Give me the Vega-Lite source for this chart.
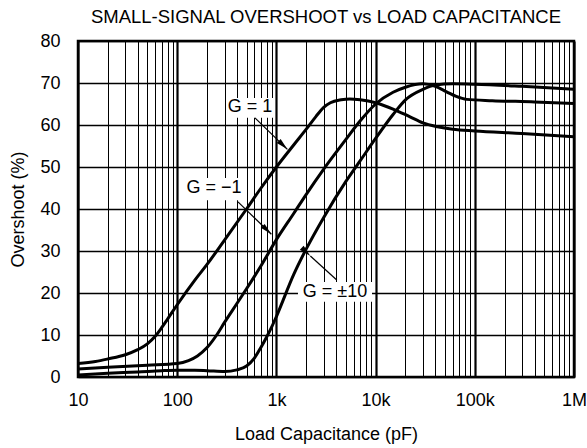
{
  "$schema": "https://vega.github.io/schema/vega-lite/v6.json",
  "width": 496,
  "height": 336,
  "autosize": {"type": "none"},
  "padding": {"left": 78, "top": 41, "right": 13, "bottom": 71},
  "background": "white",
  "config": {
    "font": "Liberation Sans",
    "view": {"stroke": "black", "strokeWidth": 2.5},
    "axis": {"labelFont": "Liberation Sans", "titleFont": "Liberation Sans", "labelColor": "black", "titleColor": "black", "labelFontSize": 18, "titleFontSize": 18, "titleFontWeight": "normal", "domain": false, "ticks": false, "gridColor": "black", "gridOpacity": 1}
  },
  "title": {"text": "SMALL-SIGNAL OVERSHOOT vs LOAD CAPACITANCE", "fontSize": 18.5, "fontWeight": "normal", "font": "Liberation Sans", "color": "black", "offset": 6},
  "datasets": {
    "curves": [
      {"series": "G1", "c": 10, "overshoot": 3.2},
      {"series": "G1", "c": 15, "overshoot": 3.7},
      {"series": "G1", "c": 20, "overshoot": 4.3},
      {"series": "G1", "c": 30, "overshoot": 5.3},
      {"series": "G1", "c": 40, "overshoot": 6.5},
      {"series": "G1", "c": 50, "overshoot": 7.9},
      {"series": "G1", "c": 60, "overshoot": 9.7},
      {"series": "G1", "c": 70, "overshoot": 11.8},
      {"series": "G1", "c": 80, "overshoot": 13.8},
      {"series": "G1", "c": 100, "overshoot": 17.2},
      {"series": "G1", "c": 150, "overshoot": 23},
      {"series": "G1", "c": 200, "overshoot": 26.8},
      {"series": "G1", "c": 300, "overshoot": 32.6},
      {"series": "G1", "c": 500, "overshoot": 40},
      {"series": "G1", "c": 700, "overshoot": 45},
      {"series": "G1", "c": 1000, "overshoot": 50},
      {"series": "G1", "c": 1500, "overshoot": 55.3},
      {"series": "G1", "c": 2000, "overshoot": 59},
      {"series": "G1", "c": 2500, "overshoot": 62},
      {"series": "G1", "c": 3000, "overshoot": 64.2},
      {"series": "G1", "c": 3500, "overshoot": 65.3},
      {"series": "G1", "c": 4500, "overshoot": 66},
      {"series": "G1", "c": 5500, "overshoot": 66.2},
      {"series": "G1", "c": 7000, "overshoot": 66},
      {"series": "G1", "c": 10000, "overshoot": 65.3},
      {"series": "G1", "c": 15000, "overshoot": 63.8},
      {"series": "G1", "c": 22000, "overshoot": 62},
      {"series": "G1", "c": 30000, "overshoot": 60.5},
      {"series": "G1", "c": 42000, "overshoot": 59.6},
      {"series": "G1", "c": 60000, "overshoot": 59},
      {"series": "G1", "c": 100000, "overshoot": 58.6},
      {"series": "G1", "c": 300000, "overshoot": 58},
      {"series": "G1", "c": 1000000, "overshoot": 57.2},
      {"series": "Gm1", "c": 10, "overshoot": 1.9},
      {"series": "Gm1", "c": 20, "overshoot": 2.3},
      {"series": "Gm1", "c": 50, "overshoot": 2.8},
      {"series": "Gm1", "c": 100, "overshoot": 3.2},
      {"series": "Gm1", "c": 130, "overshoot": 3.9},
      {"series": "Gm1", "c": 160, "overshoot": 5},
      {"series": "Gm1", "c": 200, "overshoot": 7},
      {"series": "Gm1", "c": 250, "overshoot": 10},
      {"series": "Gm1", "c": 300, "overshoot": 13},
      {"series": "Gm1", "c": 400, "overshoot": 17.5},
      {"series": "Gm1", "c": 500, "overshoot": 21},
      {"series": "Gm1", "c": 700, "overshoot": 26.5},
      {"series": "Gm1", "c": 1000, "overshoot": 32.7},
      {"series": "Gm1", "c": 1500, "overshoot": 39},
      {"series": "Gm1", "c": 2000, "overshoot": 43.5},
      {"series": "Gm1", "c": 3000, "overshoot": 49.5},
      {"series": "Gm1", "c": 5000, "overshoot": 56.5},
      {"series": "Gm1", "c": 7000, "overshoot": 61},
      {"series": "Gm1", "c": 10000, "overshoot": 65},
      {"series": "Gm1", "c": 15000, "overshoot": 67.8},
      {"series": "Gm1", "c": 20000, "overshoot": 69},
      {"series": "Gm1", "c": 30000, "overshoot": 69.8},
      {"series": "Gm1", "c": 40000, "overshoot": 69.2},
      {"series": "Gm1", "c": 52000, "overshoot": 67.9},
      {"series": "Gm1", "c": 65000, "overshoot": 66.8},
      {"series": "Gm1", "c": 83000, "overshoot": 66.1},
      {"series": "Gm1", "c": 150000, "overshoot": 65.8},
      {"series": "Gm1", "c": 400000, "overshoot": 65.5},
      {"series": "Gm1", "c": 1000000, "overshoot": 65.1},
      {"series": "G10", "c": 10, "overshoot": 0.5},
      {"series": "G10", "c": 20, "overshoot": 0.9},
      {"series": "G10", "c": 40, "overshoot": 1.2},
      {"series": "G10", "c": 70, "overshoot": 1.5},
      {"series": "G10", "c": 100, "overshoot": 1.6},
      {"series": "G10", "c": 150, "overshoot": 1.6},
      {"series": "G10", "c": 200, "overshoot": 1.5},
      {"series": "G10", "c": 300, "overshoot": 1.3},
      {"series": "G10", "c": 400, "overshoot": 1.7},
      {"series": "G10", "c": 500, "overshoot": 2.6},
      {"series": "G10", "c": 600, "overshoot": 4.5},
      {"series": "G10", "c": 700, "overshoot": 7.1},
      {"series": "G10", "c": 800, "overshoot": 9.6},
      {"series": "G10", "c": 900, "overshoot": 12},
      {"series": "G10", "c": 1000, "overshoot": 14.4},
      {"series": "G10", "c": 1500, "overshoot": 24.5},
      {"series": "G10", "c": 2000, "overshoot": 30.5},
      {"series": "G10", "c": 3000, "overshoot": 38},
      {"series": "G10", "c": 5000, "overshoot": 46.5},
      {"series": "G10", "c": 7000, "overshoot": 51.5},
      {"series": "G10", "c": 10000, "overshoot": 56.8},
      {"series": "G10", "c": 15000, "overshoot": 62.5},
      {"series": "G10", "c": 20000, "overshoot": 66},
      {"series": "G10", "c": 30000, "overshoot": 68.5},
      {"series": "G10", "c": 40000, "overshoot": 69.5},
      {"series": "G10", "c": 60000, "overshoot": 69.8},
      {"series": "G10", "c": 100000, "overshoot": 69.7},
      {"series": "G10", "c": 300000, "overshoot": 69.2},
      {"series": "G10", "c": 1000000, "overshoot": 68.5}
    ],
    "labels": [
      {"label": "G = 1", "tx": 542, "ty": 64.3, "bx1": 318, "bx2": 960, "by1": 61.7, "by2": 66.4, "ax1": 608, "ay1": 61.7, "ax2": 1290, "ay2": 54.2},
      {"label": "G = −1", "tx": 235, "ty": 45, "bx1": 120, "bx2": 460, "by1": 42.1, "by2": 47.4, "ax1": 410, "ay1": 41.7, "ax2": 890, "ay2": 34},
      {"label": "G = ±10", "tx": 3900, "ty": 20.2, "bx1": 1650, "bx2": 9200, "by1": 17.9, "by2": 22.6, "ax1": 4060, "ay1": 23.1, "ax2": 2200, "ay2": 28.8}
    ]
  },
  "layer": [
    {
      "data": {"name": "curves"},
      "mark": {"type": "line", "color": "black", "strokeWidth": 3, "interpolate": "monotone", "clip": true},
      "encoding": {
        "x": {"field": "c", "type": "quantitative",
          "scale": {"type": "log", "domain": [10, 1000000]},
          "axis": {
            "title": "Load Capacitance (pF)",
            "values": [10,20,30,40,50,60,70,80,90,100,200,300,400,500,600,700,800,900,1000,2000,3000,4000,5000,6000,7000,8000,9000,10000,20000,30000,40000,50000,60000,70000,80000,90000,100000,200000,300000,400000,500000,600000,700000,800000,900000,1000000],
            "labelExpr": "datum.value == 10 ? '10' : datum.value == 100 ? '100' : datum.value == 1000 ? '1k' : datum.value == 10000 ? '10k' : datum.value == 100000 ? '100k' : datum.value == 1000000 ? '1M' : ''",
            "labelOverlap": false,
            "labelFlush": false,
            "labelBound": false,
            "labelPadding": 14,
            "titlePadding": 16,
            "gridWidth": {"condition": {"test": "indexof([10,100,1000,10000,100000,1000000], datum.value) >= 0", "value": 2.2}, "value": 1}
          }
        },
        "y": {"field": "overshoot", "type": "quantitative",
          "scale": {"domain": [0, 80]},
          "axis": {"title": "Overshoot (%)", "values": [0,10,20,30,40,50,60,70,80], "labelPadding": 18, "titlePadding": 12, "gridWidth": 1.3}
        },
        "detail": {"field": "series"}
      }
    },
    {
      "data": {"name": "labels"},
      "mark": {"type": "rect", "color": "white"},
      "encoding": {
        "x": {"field": "bx1", "type": "quantitative"},
        "x2": {"field": "bx2"},
        "y": {"field": "by1", "type": "quantitative"},
        "y2": {"field": "by2"}
      }
    },
    {
      "data": {"name": "labels"},
      "mark": {"type": "rule", "color": "black", "strokeWidth": 1.2},
      "encoding": {
        "x": {"field": "ax1", "type": "quantitative"},
        "x2": {"field": "ax2"},
        "y": {"field": "ay1", "type": "quantitative"},
        "y2": {"field": "ay2"}
      }
    },
    {
      "data": {"name": "labels"},
      "mark": {"type": "point", "shape": "M0,0L-0.55,2.4L0.55,2.4Z", "filled": true, "color": "black", "opacity": 1, "size": 100, "strokeWidth": 0},
      "encoding": {
        "x": {"field": "ax2", "type": "quantitative"},
        "y": {"field": "ay2", "type": "quantitative"},
        "angle": {"field": "label", "type": "nominal", "scale": {"domain": ["G = 1", "G = −1", "G = ±10"], "range": [134, 134, 313]}, "legend": null}
      }
    },
    {
      "data": {"name": "labels"},
      "mark": {"type": "text", "color": "black", "fontSize": 18, "font": "Liberation Sans", "align": "center", "baseline": "middle"},
      "encoding": {
        "x": {"field": "tx", "type": "quantitative"},
        "y": {"field": "ty", "type": "quantitative"},
        "text": {"field": "label"}
      }
    }
  ]
}
